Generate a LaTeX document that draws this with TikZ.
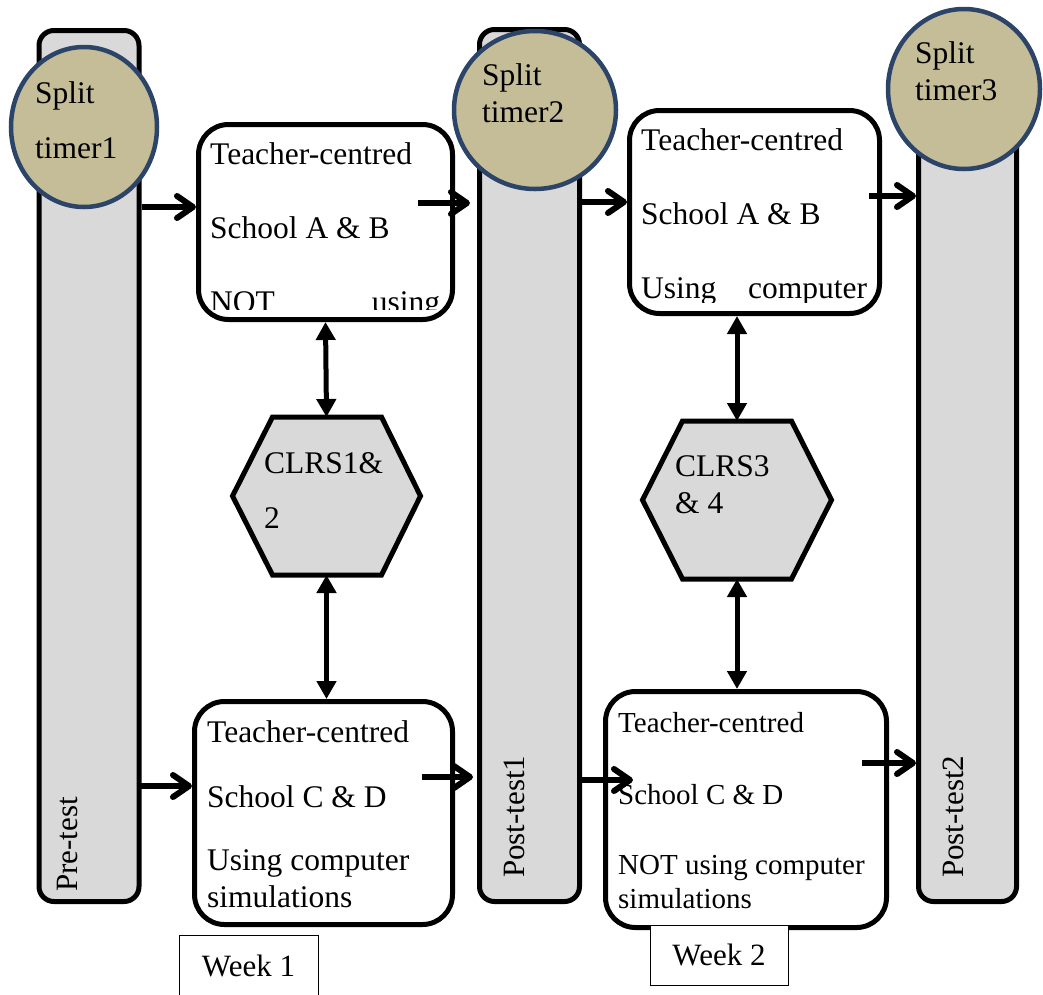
\documentclass[tikz,border=0pt]{standalone}
\usepackage{fontspec}
\setmainfont{Liberation Serif}
\usetikzlibrary{arrows.meta,calc,shapes.geometric}
\definecolor{bargray}{HTML}{D9D9D9}
\definecolor{tan}{HTML}{C4BD97}
\definecolor{rimblue}{HTML}{2B4468}
\begin{document}
\begin{tikzpicture}[x=1pt,y=-1pt,
  bar/.style={draw=black, line width=5pt, fill=bargray, rounded corners=15pt, inner sep=0pt},
  timer/.style={ellipse, draw=rimblue, line width=4.5pt, fill=tan, inner sep=0pt},
  stepbox/.style={draw=black, line width=5pt, fill=white, rounded corners=30pt, inner sep=0pt},
  hexframe/.style={inner sep=0pt, outer sep=0pt},
  hexshape/.style={draw=black, line width=5pt, fill=bargray, line join=miter},
  week/.style={draw=black, line width=1pt, fill=white, inner sep=0pt, font=\fontsize{31}{37}\selectfont},
  txt/.style={anchor=base west, inner sep=0pt, font=\fontsize{31.5}{37}\selectfont},
  smalltxt/.style={anchor=base west, inner sep=0pt, font=\fontsize{29}{35}\selectfont},
  vtxt/.style={anchor=base west, inner sep=0pt, rotate=90, font=\fontsize{31}{37}\selectfont},
  flow/.style={line width=6pt, -{Straight Barb[length=16pt,width=22pt,round]}},
  link/.style={line width=5pt, {Triangle[length=18pt,width=19pt]}-{Triangle[length=18pt,width=19pt]}}
]
\useasboundingbox (0,0) rectangle (1043,994);

% bars
\node[bar, minimum width=100pt, minimum height=871pt] (bar1) at (89,466) {};
\node[bar, minimum width=100pt, minimum height=872pt] (bar2) at (529.5,465.5) {};
\node[bar, minimum width=98pt, minimum height=872pt] (bar3) at (967.5,465.5) {};

% timers
\node[timer, minimum width=146pt, minimum height=160pt] (tim1) at (84,127) {};
\node[timer, minimum width=162pt, minimum height=158pt] (tim2) at (535,110) {};
\node[timer, minimum width=152pt, minimum height=160pt] (tim3) at (964,89) {};

% boxes
\node[stepbox, minimum width=254pt, minimum height=195pt] (boxA) at (325.5,222) {};
\node[stepbox, minimum width=250pt, minimum height=203pt] (boxB) at (754.5,212) {};
\node[stepbox, minimum width=258pt, minimum height=223pt] (boxC) at (323.5,813) {};
\node[stepbox, minimum width=281pt, minimum height=236pt] (boxD) at (746,809.5) {};

% hexagons
\node[hexframe, minimum width=188pt, minimum height=158pt] (hexA) at (326.5,496) {};
\draw[hexshape] ($(hexA.north west)+(40,0)$) -- ($(hexA.north east)+(-39,0)$) -- (hexA.east)
  -- ($(hexA.south east)+(-39,0)$) -- ($(hexA.south west)+(40,0)$) -- (hexA.west) -- cycle;
\node[hexframe, minimum width=189pt, minimum height=158pt] (hexB) at (737,500) {};
\draw[hexshape] ($(hexB.north west)+(40,0)$) -- ($(hexB.north east)+(-40,0)$) -- (hexB.east)
  -- ($(hexB.south east)+(-40,0)$) -- ($(hexB.south west)+(40,0)$) -- (hexB.west) -- cycle;

% week labels
\node[week, minimum width=139pt, minimum height=62pt] (wk1) at (248.5,966) {Week 1};
\node[week, minimum width=138pt, minimum height=60pt] (wk2) at (719,955) {Week 2};

% texts in timers
\node[txt] (t1a) at (35,103) {Split};
\node[txt] (t1b) at (35,158) {timer1};
\node[txt] (t2a) at (482,85) {Split};
\node[txt] (t2b) at (482,122) {timer2};
\node[txt] (t3a) at (915,63) {Split};
\node[txt] (t3b) at (915,100) {timer3};

% texts in bars
\node[vtxt] (pre) at (77,892) {Pre-test};
\node[vtxt] (post1) at (524,878) {Post-test1};
\node[vtxt] (post2) at (963,878) {Post-test2};

% box A
\node[txt] (a1) at (210,164) {Teacher-centred};
\node[txt] (a2) at (210,238) {School A \& B};
\begin{scope}
  \clip (200,250) rectangle (452,309);
  \node[txt] (a3) at (210,312) {\makebox[230pt][s]{NOT using}};
\end{scope}

% box B
\node[txt] (b1) at (641,150) {Teacher-centred};
\node[txt] (b2) at (641,224) {School A \& B};
\begin{scope}
  \clip (630,250) rectangle (880,302);
  \node[txt] (b3) at (641,298.5) {\makebox[226pt][s]{Using computer}};
\end{scope}

% box C
\node[txt] (c1) at (207,742) {Teacher-centred};
\node[txt] (c2) at (207,807) {School C \& D};
\node[txt] (c3) at (207,870) {Using computer};
\node[txt] (c4) at (207,907) {simulations};

% box D
\node[smalltxt] (d1) at (618,732) {Teacher-centred};
\node[smalltxt] (d2) at (618,804) {School C \& D};
\node[smalltxt] (d3) at (618,874) {NOT using computer};
\node[smalltxt] (d4) at (618,908) {simulations};

% hex texts
\node[txt] (h1a) at (264,473) {CLRS1\&};
\node[txt] (h1b) at (264,528) {2};
\node[txt] (h2a) at (675,476) {CLRS3};
\node[txt] (h2b) at (675,513) {\& 4};

% horizontal arrows
\draw[flow] (bar1.east |- 0,207) -- (boxA.west |- 0,207);
\draw[flow] ($(boxA.east |- 0,203)+(-37,0)$) -- ($(bar2.west |- 0,203)+(-7,0)$);
\draw[flow] (bar2.east |- 0,202) -- (boxB.west |- 0,202);
\draw[flow] ($(boxB.east |- 0,196)+(-13,0)$) -- (bar3.west |- 0,196);
\draw[flow] ($(bar1.east |- 0,786)+(-5,0)$) -- (boxC.west |- 0,786);
\draw[flow] ($(boxC.east |- 0,777)+(-33,0)$) -- ($(bar2.west |- 0,777)+(-4,0)$);
\draw[flow] (bar2.east |- 0,780) -- ($(boxD.west |- 0,780)+(30,0)$);
\draw[flow] ($(boxD.east |- 0,763)+(-27,0)$) -- (bar3.west |- 0,763);

% vertical double arrows
\draw[link] (boxA.south) -- (hexA.north);
\draw[link] (hexA.south) -- (hexA.south |- boxC.north);
\draw[link] (hexB.north |- boxB.south) -- (hexB.north);
\draw[link] (hexB.south) -- (hexB.south |- boxD.north);
\end{tikzpicture}
\end{document}
